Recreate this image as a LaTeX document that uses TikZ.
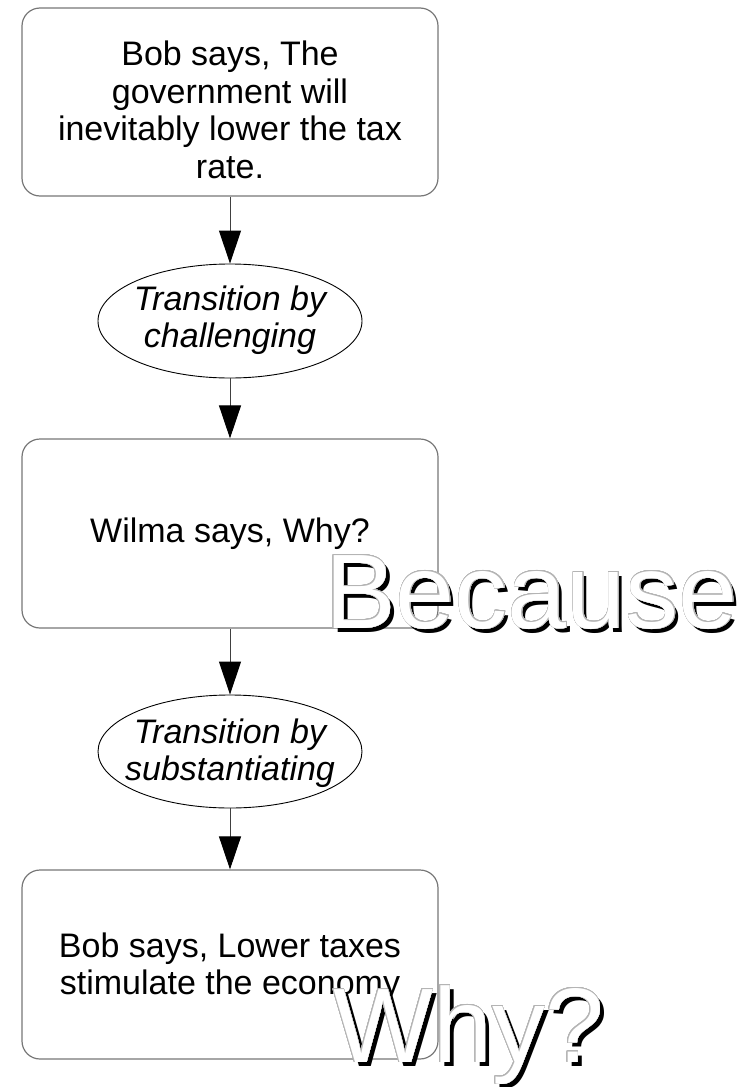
\documentclass[tikz,border=0pt]{standalone}
\usepackage{fontspec}
\setmainfont{Liberation Sans}
\usepackage{contour}
\contourlength{0.7pt}
\contournumber{24}
\usetikzlibrary{shapes.geometric,arrows.meta}
\definecolor{boxline}{HTML}{777777}
\definecolor{rim}{HTML}{B4B4B4}

\begin{document}
\begin{tikzpicture}[x=1pt,y=-1pt,
  stepbox/.style={draw=boxline, line width=1.2pt, rounded corners=18pt,
    minimum width=416pt, inner sep=0pt},
  transition/.style={draw=black, line width=0.9pt, ellipse,
    minimum width=264pt, minimum height=114pt, inner sep=0pt},
  boxtext/.style={font=\fontsize{34}{37.5}\selectfont, align=center, inner sep=0pt},
  transtext/.style={boxtext, font=\fontsize{34}{37.5}\selectfont\itshape},
  flow/.style={draw=black!75, line width=1pt,
    -{Triangle[length=33pt,width=22pt,color=black]}},
  bigword/.style={font=\fontsize{106}{112}\selectfont, anchor=base west, inner sep=0pt}
]
\useasboundingbox (0,0) rectangle (749,1087);

% statements and transitions
\node[stepbox, minimum height=188pt] (b1) at (230,102) {};
\node[transition] (e1) at (230,321) {};
\node[stepbox, minimum height=189pt] (b2) at (230,533.5) {};
\node[transition, minimum height=113pt] (e2) at (230,751.5) {};
\node[stepbox, minimum height=189pt] (b3) at (230,964.5) {};

% texts inside the shapes
\node[boxtext] (t1) at (230,110) {Bob says, The\\government will\\inevitably lower the tax\\rate.};
\node[transtext] (t2) at (230,320) {Transition by\\challenging};
\node[boxtext] (t3) at (230,534) {Wilma says, Why?};
\node[transtext] (t4) at (230,753) {Transition by\\substantiating};
\node[boxtext] (t5) at (230,967) {Bob says, Lower taxes\\stimulate the economy};

% connectors
\draw[flow] (b1) -- (e1);
\draw[flow] (e1) -- (b2);
\draw[flow] (b2) -- (e2);
\draw[flow] (e2) -- (b3);

% large outlined words with a drop shadow
\node[bigword, text=black] (becauseshadow) at (329,632) {Because};
\node[bigword] (because) at (325,628) {\contour{rim}{\textcolor{white}{Because}}};
\node[bigword, text=black] (whyshadow) at (337,1066) {Why?};
\node[bigword] (why) at (333,1062) {\contour{rim}{\textcolor{white}{Why?}}};
\end{tikzpicture}
\end{document}
